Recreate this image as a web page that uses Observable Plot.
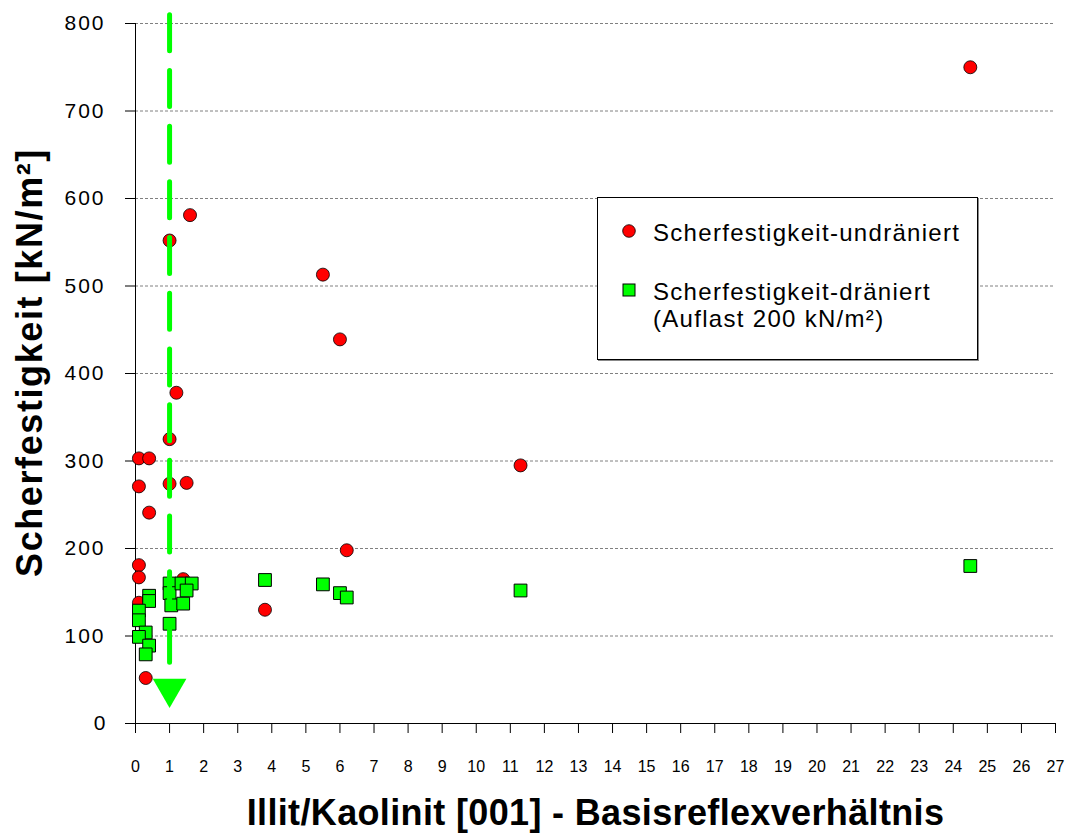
<!DOCTYPE html>
<html>
<head>
<meta charset="utf-8">
<script src="https://cdn.jsdelivr.net/npm/d3@7"></script>
<script src="https://cdn.jsdelivr.net/npm/@observablehq/plot@0.6"></script>
<style>
  body { margin: 0; background: #fff; }
  #wrap { position: relative; width: 1070px; height: 835px; font-family: "Liberation Sans", Arial, sans-serif; }
  #legend { position: absolute; left: 597px; top: 197px; width: 382px; height: 164px; }
  #legend text { font-size: 24px; letter-spacing: 1.3px; font-family: "Liberation Sans", Arial, sans-serif; }
</style>
</head>
<body>
<div id="wrap"></div>
<script>
// Scherfestigkeit-undräniert (red circles)
const undrainedX = [0.1, 0.4, 0.1, 1.0, 1.5, 0.4, 0.1, 0.1, 0.1, 0.3, 1.0, 1.2, 1.0, 1.6, 5.5, 6.0, 11.3, 6.2, 3.8, 24.5, 1.4];
const undrainedY = [303, 303, 271, 274, 275, 241, 181, 167, 138, 52, 325, 378, 552, 581, 513, 439, 295, 198, 130, 750, 165];

// Scherfestigkeit-dräniert (green squares)
const drainedX = [0.4, 0.4, 0.1, 0.1, 0.3, 0.1, 0.4, 0.3, 1.0, 1.0, 1.05, 1.0, 1.35, 1.65, 1.5, 1.4, 3.8, 5.5, 6.0, 6.2, 11.3, 24.5];
const drainedY = [146, 140, 129, 118, 104, 99, 89, 79, 160, 149, 135, 114, 160, 160, 152, 137, 164, 159, 149, 144, 152, 180];

// green dashed marker line at ratio 1 with arrow head
const markerLineX = [1, 1];
const markerLineY = [810, 70];
const arrowX = [1];
const arrowY = [40];

const xTicks = [0, 1, 2, 3, 4, 5, 6, 7, 8, 9, 10, 11, 12, 13, 14, 15, 16, 17, 18, 19, 20, 21, 22, 23, 24, 25, 26, 27];
const yTicks = [0, 100, 200, 300, 400, 500, 600, 700, 800];
const yGrid = [100, 200, 300, 400, 500, 600, 700, 800];

const labelUndrained = "Scherfestigkeit-undräniert";
const labelDrained1 = "Scherfestigkeit-dräniert";
const labelDrained2 = "(Auflast 200 kN/m²)";
const xTitle = "Illit/Kaolinit [001] - Basisreflexverhältnis";
const yTitle = "Scherfestigkeit [kN/m²]";

const undrained = undrainedX.map((x, i) => ({x, y: undrainedY[i]}));
const drained = drainedX.map((x, i) => ({x, y: drainedY[i]}));
const markerLine = markerLineX.map((x, i) => ({x, y: markerLineY[i]}));
const arrow = arrowX.map((x, i) => ({x, y: arrowY[i]}));

const FONT = '"Liberation Sans", Arial, sans-serif';

const chart = Plot.plot({
  width: 1070,
  height: 835,
  marginLeft: 135,
  marginRight: 15,
  marginTop: 23,
  marginBottom: 112,
  style: {fontFamily: FONT, background: "#fff", color: "#000", overflow: "visible"},
  x: {domain: [0, 27]},
  y: {domain: [0, 800]},
  marks: [
    Plot.gridY(yGrid, {stroke: "#808080", strokeOpacity: 1, strokeWidth: 1, strokeDasharray: "3,2"}),
    Plot.axisY({ticks: yTicks, tickSize: 10, tickPadding: 20, fontSize: 21, label: null, tickFormat: d => String(d)}),
    Plot.axisX({ticks: xTicks, tickSize: 10, tickPadding: 27, fontSize: 16, label: null, tickFormat: d => String(d)}),
    Plot.ruleX([0], {stroke: "#000", strokeWidth: 1}),
    Plot.ruleY([0], {stroke: "#000", strokeWidth: 1}),
    Plot.dot(undrained, {x: "x", y: "y", r: 6.5, fill: "#ff0000", stroke: "#000", strokeWidth: 0.8, symbol: "circle"}),
    Plot.dot(drained, {x: "x", y: "y", r: 7.2, fill: "#00ff00", stroke: "#000", strokeWidth: 1, symbol: "square"}),
    Plot.line(markerLine, {x: "x", y: "y", stroke: "#00ff00", strokeWidth: 5, strokeDasharray: "36,19.7", clip: false}),
    Plot.dot(arrow, {x: "x", y: "y", symbol: "triangle", rotate: 180, r: 12.5, fill: "#00ff00", stroke: "none"}),
    Plot.text([yTitle], {frameAnchor: "left", dx: -105, dy: -11, rotate: -90, fontSize: 36, fontWeight: "bold", textAnchor: "middle", lineAnchor: "middle", fontFamily: FONT}),
    Plot.text([xTitle], {frameAnchor: "bottom", dy: 90, fontSize: 36, fontWeight: "bold", textAnchor: "middle", lineAnchor: "middle", fontFamily: FONT})
  ]
});

const wrap = document.getElementById("wrap");
wrap.appendChild(chart);

// letter spacing adjustments to match the reference typography
const svgSel = d3.select(chart);
svgSel.selectAll("text").each(function() {
  const t = this.textContent;
  if (t === yTitle) this.style.letterSpacing = "1.6px";
  else if (t === xTitle) this.style.letterSpacing = "0.35px";
  else if (yTicks.map(String).includes(t) && t.length >= 3) this.style.letterSpacing = "2px";
});

// legend box (overlay inside plot area)
const legend = d3.select(wrap).append("svg")
  .attr("id", "legend")
  .attr("width", 382).attr("height", 164);
legend.append("rect").attr("x", 0.5).attr("y", 0.5).attr("width", 380).attr("height", 162)
  .attr("fill", "#fff").attr("stroke", "#000").attr("stroke-width", 1);
legend.append("line").attr("x1", 381.5).attr("y1", 1).attr("x2", 381.5).attr("y2", 164).attr("stroke", "#888").attr("stroke-width", 1);
legend.append("line").attr("x1", 1).attr("y1", 163.5).attr("x2", 382).attr("y2", 163.5).attr("stroke", "#888").attr("stroke-width", 1);
legend.append("circle").attr("cx", 32).attr("cy", 34).attr("r", 6.3)
  .attr("fill", "#ff0000").attr("stroke", "#000").attr("stroke-width", 0.8);
legend.append("text").attr("x", 56).attr("y", 44).text(labelUndrained);
legend.append("rect").attr("x", 26).attr("y", 87).attr("width", 12).attr("height", 12)
  .attr("fill", "#00ff00").attr("stroke", "#000").attr("stroke-width", 1);
legend.append("text").attr("x", 56).attr("y", 103).text(labelDrained1);
legend.append("text").attr("x", 56).attr("y", 130).text(labelDrained2);
</script>
</body>
</html>
